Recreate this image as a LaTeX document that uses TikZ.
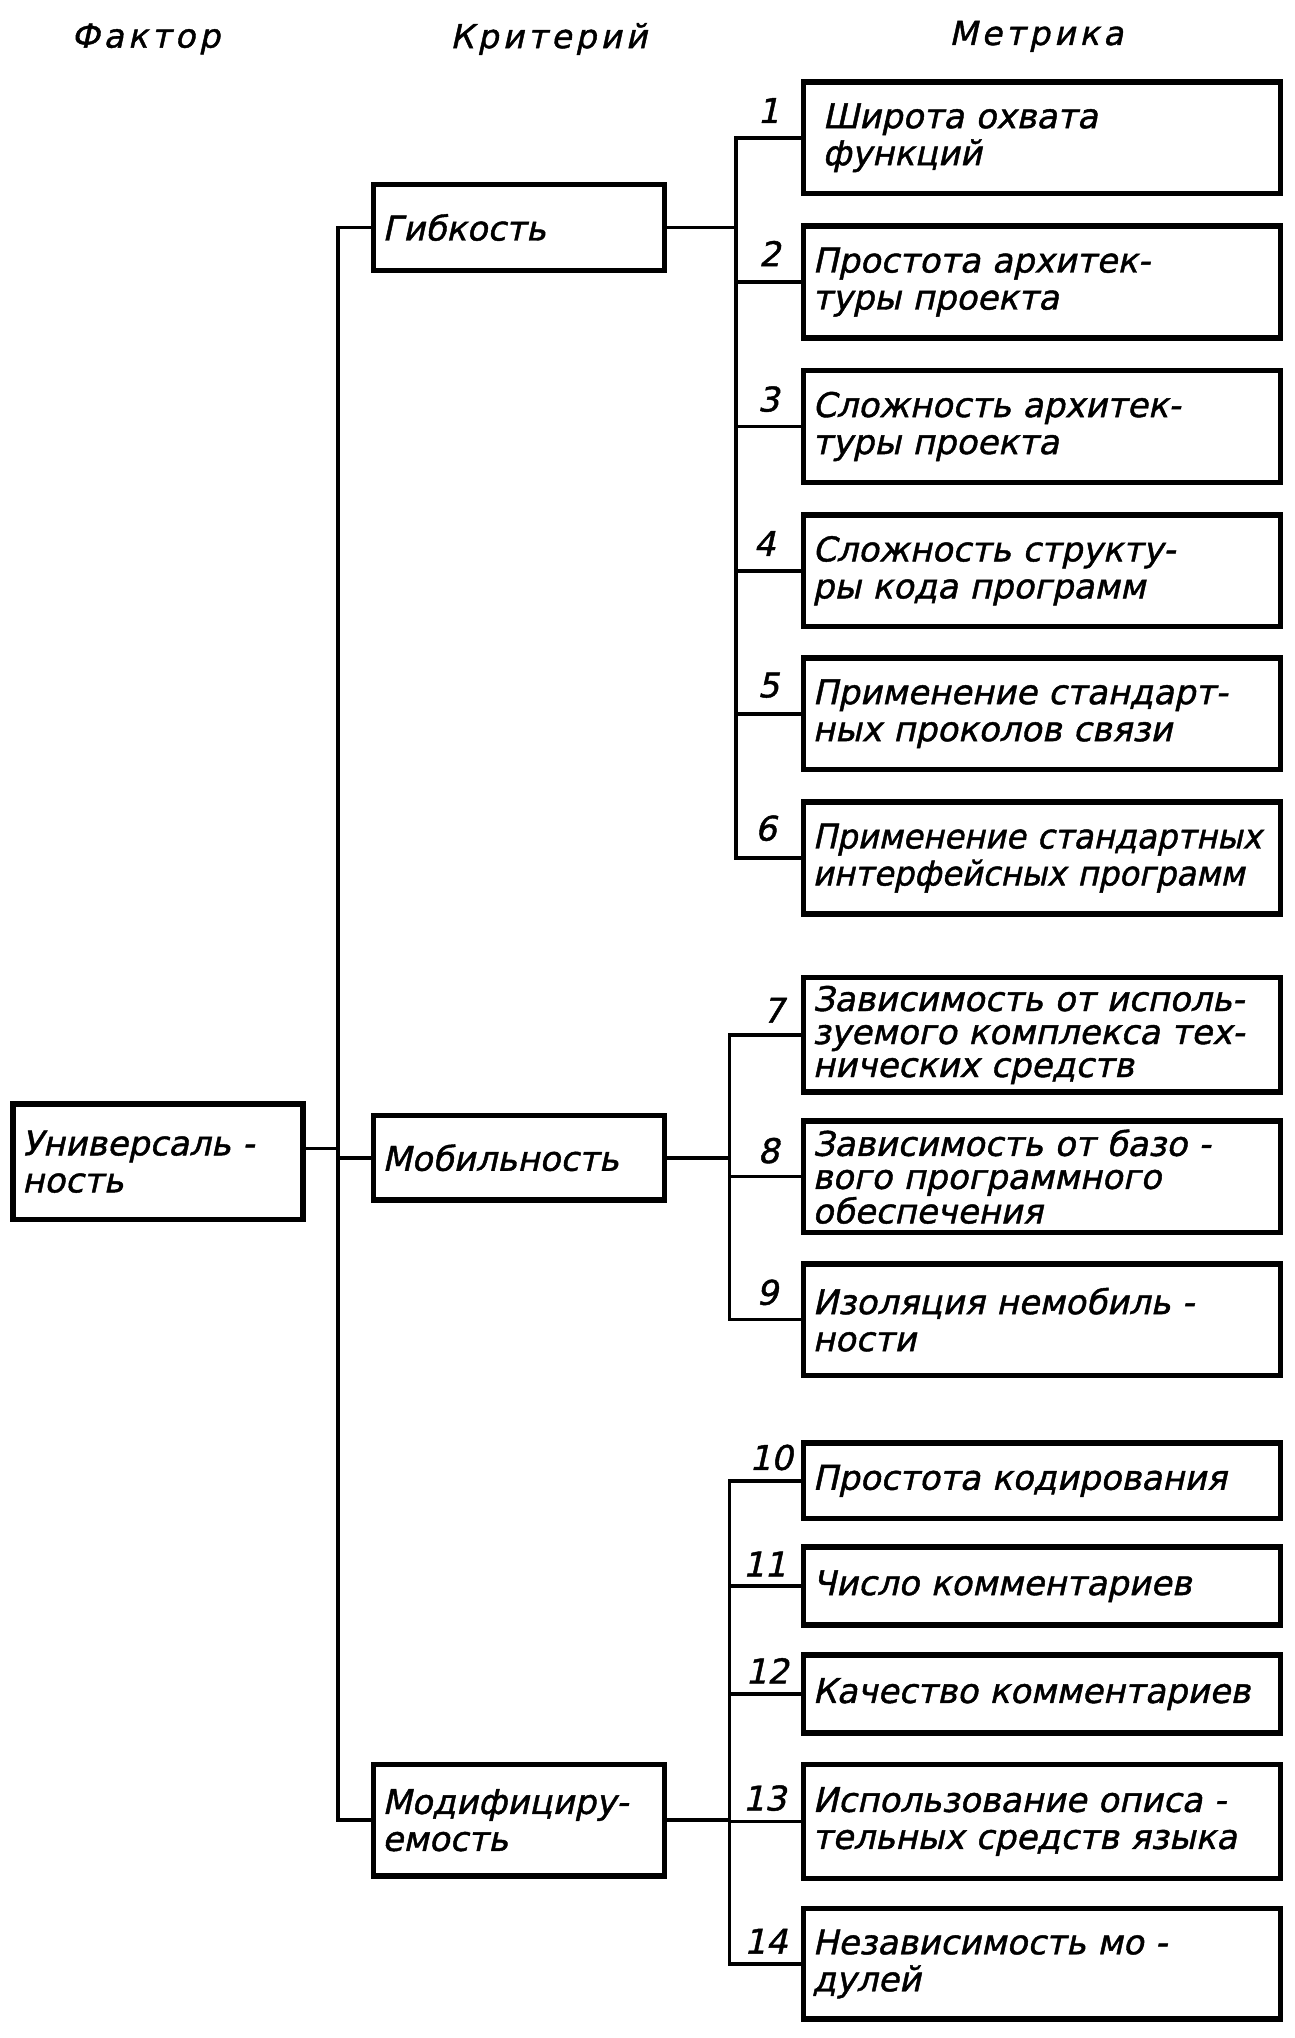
\documentclass[tikz,border=0pt]{standalone}
\usepackage{fontspec}
\newfontfamily\gost{DejaVu Sans}[FakeSlant=0.22,FakeBold=1.3]
\newfontfamily\gostn{DejaVu Sans}[FakeSlant=0.22,FakeBold=1.3,FakeStretch=0.95]
\begin{document}
\begin{tikzpicture}[x=1.3002pt,y=-1.3002pt,
  every node/.style={font=\gost\fontsize{34}{37}\selectfont},
  mbox/.style={draw, line width=5.5pt, align=left, text width=459pt, inner xsep=9pt, inner ysep=0pt, minimum height=#1},
  cbox/.style={draw, line width=5.5pt, align=left, text width=273pt, inner xsep=9pt, inner ysep=0pt, minimum height=#1},
  hdr/.style={font=\gost\fontsize{33}{37}\selectfont\addfontfeature{LetterSpace=12}},
  num/.style={inner sep=0pt},
  conn/.style={line width=3.5pt}
]
\useasboundingbox (0,0) rectangle (996,1567.5);

% headers
\node[hdr] (hF) at (112,30) {Фактор};
\node[hdr] (hK) at (422,30) {Критерий};
\node[hdr] (hM) at (797,28) {Метрика};

% factor
\node[cbox=115.7pt, text width=272pt] (f) at (121.5,893.5) {Универсаль -\\ность};

% criteria
\node[cbox=85.8pt] (c1) at (399,175) {Гибкость};
\node[cbox=84.5pt] (c2) at (399,890.5) {Мобильность};
\node[cbox=111.8pt] (c3) at (399,1400) {Модифициру-\\емость};

% metrics
\node[mbox=111.8pt] (m1) at (801.5,106) {\hspace*{10pt}Широта охвата\\\hspace*{10pt}функций};
\node[mbox=111.8pt] (m2) at (801.5,217) {Простота архитек-\\туры проекта};
\node[mbox=111.8pt] (m3) at (801.5,328) {Сложность архитек-\\туры проекта};
\node[mbox=111.8pt] (m4) at (801.5,439) {Сложность структу-\\ры кода программ};
\node[mbox=111.8pt] (m5) at (801.5,549) {Применение стандарт-\\ных проколов связи};
\node[mbox=111.8pt, font=\gostn\fontsize{34}{37}\selectfont] (m6) at (801.5,660) {\mbox{Применение стандартных}\\\mbox{интерфейсных программ}};
\node[mbox=114.4pt, font=\gost\fontsize{34}{33}\selectfont] (m7) at (801.5,796) {Зависимость от исполь-\\зуемого комплекса тех-\\нических средств};
\node[mbox=111.8pt, font=\gost\fontsize{34}{33}\selectfont] (m8) at (801.5,905) {Зависимость от базо -\\вого программного\\обеспечения};
\node[mbox=111.8pt] (m9) at (801.5,1015) {Изоляция немобиль -\\ности};
\node[mbox=75.4pt] (m10) at (801.5,1139) {Простота кодирования};
\node[mbox=78pt] (m11) at (801.5,1220) {Число комментариев};
\node[mbox=78pt] (m12) at (801.5,1303) {Качество комментариев};
\node[mbox=114.4pt] (m13) at (801.5,1401) {Использование описа -\\тельных средств языка};
\node[mbox=110.5pt] (m14) at (801.5,1510.5) {Независимость мо -\\дулей};

% numbers
\node[num] (n1) at (591,85) {1};
\node[num] (n2) at (592,195) {2};
\node[num] (n3) at (591,307) {3};
\node[num] (n4) at (588,418) {4};
\node[num] (n5) at (591,527) {5};
\node[num] (n6) at (589,637) {6};
\node[num] (n7) at (595,777) {7};
\node[num] (n8) at (591,885) {8};
\node[num] (n9) at (590,994) {9};
\node[num] (n10) at (593,1121) {10};
\node[num] (n11) at (588,1203) {11};
\node[num] (n12) at (590,1285) {12};
\node[num] (n13) at (588,1383) {13};
\node[num] (n14) at (589,1493) {14};

% bus coordinates
\coordinate (tr) at (260,0);
\coordinate (b1) at (566,0);
\coordinate (b2) at (561,0);
\coordinate (b3) at (561,0);
\coordinate (fj) at ([yshift=13pt]f.east);

% left trunk
\draw[conn] (c1.west) -- (c1.west -| tr) -- (c3.west -| tr) -- (c3.west);
\draw[conn] (c2.west) -- (c2.west -| tr);
\draw[conn] (fj) -- (fj -| tr);

% group 1
\draw[conn] (c1.east) -- (c1.east -| b1);
\draw[conn] (m1.west) -- (m1.west -| b1) -- (m6.west -| b1) -- (m6.west);
\foreach \i in {2,3,4,5} \draw[conn] (m\i.west) -- (m\i.west -| b1);

% group 2
\draw[conn] (c2.east) -- (c2.east -| b2);
\draw[conn] (m7.west) -- (m7.west -| b2) -- (m9.west -| b2) -- (m9.west);
\draw[conn] (m8.west) -- (m8.west -| b2);

% group 3
\draw[conn] (c3.east) -- (c3.east -| b3);
\draw[conn] (m10.west) -- (m10.west -| b3) -- (m14.west -| b3) -- (m14.west);
\foreach \i in {11,12,13} \draw[conn] (m\i.west) -- (m\i.west -| b3);
\end{tikzpicture}
\end{document}
